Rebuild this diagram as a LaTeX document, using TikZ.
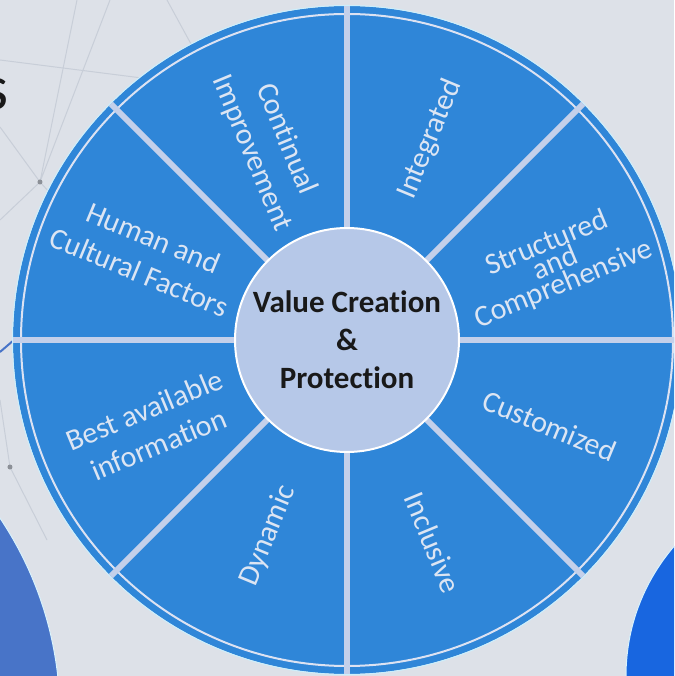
\documentclass[tikz,border=0pt]{standalone}
\usepackage{fontspec}
\setmainfont{Carlito}[Ligatures=NoCommon]

\definecolor{bgcol}{HTML}{DDE1E8}
\definecolor{netcol}{HTML}{C8CED8}
\definecolor{wheelblue}{HTML}{2F86D8}
\definecolor{spokecol}{HTML}{C4D0EA}
\definecolor{ringcol}{HTML}{DCE2F2}
\definecolor{hubcol}{HTML}{B6C8E8}
\definecolor{lblcol}{HTML}{DCE5F3}
\definecolor{leftblue}{HTML}{4874C8}
\definecolor{rightblue}{HTML}{1866E0}

\tikzset{
  lbl/.style={text=lblcol, font=\fontsize{30}{37}\selectfont, align=center, inner sep=0pt},
  spoke/.style={spokecol, line width=6pt},
  hub/.style={circle, fill=hubcol, draw=white, line width=2pt, minimum size=224pt,
    inner sep=0pt, align=center, text=black!90, font=\bfseries\fontsize{31}{38}\selectfont},
  net/.style={netcol, line width=1pt},
}

% name, angle, radius, rotation, text
\newcommand{\wheeltext}[5]{%
  \node[lbl, rotate=#4] (#1) at (#2:#3) {#5};
}

\begin{document}
\begin{tikzpicture}[x=1pt, y=1pt]
    \useasboundingbox (-347,-336) rectangle (327,340);
    \clip (-347,-336) rectangle (327,340);
    \fill[bgcol] (-347,-336) rectangle (327,340);

% network in the background
    \draw[net] (-347,280) -- (-150,255);
    \draw[net] (-270,340) -- (-307,158) -- (-237,340);
    \draw[net] (-347,213) -- (-307,158) -- (-200,40);
    \draw[net] (-180,340) -- (-120,230);
    \draw[net] (-307,158) -- (-347,120);
    \draw[net] (-347,-60) -- (-337,-127) -- (-300,-200);
    \fill[netcol!70!black] (-307,158) circle (2.5);
    \fill[netcol!70!black] (-337,-127) circle (2.5);
    \draw[leftblue, line width=2pt] (-347,-12) -- (-333,0);

% title letter cut by the edge
    \node[font=\fontsize{64}{64}\selectfont, anchor=base east, inner sep=0pt, text=black!90] (title) at (-338,230) {s};

% blue discs at the bottom
    \fill[leftblue, draw=white!85!cyan, line width=1pt] (-643,-376) circle (356);
    \fill[rightblue, draw=white!85!cyan, line width=1pt] (478,-336) circle (199);

% the wheel
    \fill[wheelblue] (0,0) circle (334);
    \draw[white!80!cyan, line width=1pt] (0,0) circle (334.5);
    \draw[ringcol, line width=2pt] (0,0) circle (326);
    \foreach \a in {0,45,...,315}
      \draw[spoke] (0,0) -- (\a:334);

    \node[hub] (core) at (0,0) {Value Creation\\\&\\Protection};

    \wheeltext{integrated}{67.5}{217}{67.5}{Integrated}
    \wheeltext{structured}{20}{222}{22.5}{Structured\\[-15pt]and\\[-15pt]Comprehensive}
    \wheeltext{customized}{-23}{220}{-22.5}{Customized}
    \wheeltext{inclusive}{-67}{220}{-67.5}{Inclusive}
    \wheeltext{dynamic}{-112}{211}{67.5}{Dynamic}
    \wheeltext{bestinfo}{-156}{214}{22.5}{Best available\\information}
    \wheeltext{human}{157}{218}{-22.5}{Human and\\Cultural Factors}
    \wheeltext{continual}{112}{209}{-67.5}{Continual\\Improvement}

\end{tikzpicture}
\end{document}
